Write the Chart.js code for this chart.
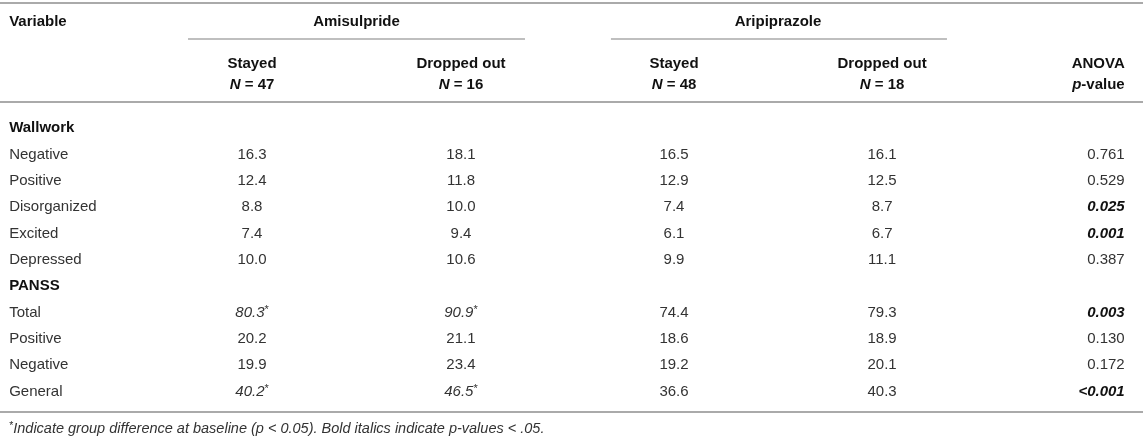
<!DOCTYPE html>
<html>
<head>
<meta charset="utf-8">
<script src="https://cdn.jsdelivr.net/npm/chart.js@4"></script>
<style>
  html, body { margin: 0; padding: 0; background: #fff; }
  #wrap { width: 1143px; height: 438px; position: relative; }
</style>
</head>
<body>
<div id="wrap"><canvas id="tabla"></canvas></div>
<script>
// Datos de la tabla
const groups = ['Amisulpride', 'Aripiprazole'];
const subgroups = ['Stayed', 'Dropped out', 'Stayed', 'Dropped out'];
const groupN = [47, 16, 48, 18];
const sections = ['Wallwork', 'PANSS'];
const wallworkVars = ['Negative', 'Positive', 'Disorganized', 'Excited', 'Depressed'];
const panssVars = ['Total', 'Positive', 'Negative', 'General'];
const amiStayed = [16.3, 12.4, 8.8, 7.4, 10.0, 80.3, 20.2, 19.9, 40.2];
const amiDropped = [18.1, 11.8, 10.0, 9.4, 10.6, 90.9, 21.1, 23.4, 46.5];
const ariStayed = [16.5, 12.9, 7.4, 6.1, 9.9, 74.4, 18.6, 19.2, 36.6];
const ariDropped = [16.1, 12.5, 8.7, 6.7, 11.1, 79.3, 18.9, 20.1, 40.3];
const pValues = ['0.761', '0.529', '0.025', '0.001', '0.387', '0.003', '0.130', '0.172', '<0.001'];
// filas con diferencia en la linea base (solo amisulprida)
const baselineDiff = [false, false, false, false, false, true, false, false, true];
const footnote = 'Indicate group difference at baseline (p < 0.05). Bold italics indicate p-values < .05.';

// Maquetacion (x en % del ancho, y en unidades de fila)
const FONT = '"Liberation Sans", Arial, Helvetica, sans-serif';
const colX = [0.8, 22.05, 40.33, 58.97, 77.17, 98.4];
const groupX = [(colX[1] + colX[2]) / 2, (colX[3] + colX[4]) / 2];
const groupLine = [[16.45, 45.93], [53.45, 82.85]];
const headY = -4.04, subLineY = -3.33, subY1 = -2.45, subY2 = -1.65;
const topRule = -4.7, midRule = -0.94, bottomRule = 10.82, footY = 11.42;

const fonts = {
  r: '15px ' + FONT,
  b: 'bold 15px ' + FONT,
  i: 'italic 15px ' + FONT,
  bi: 'italic bold 15px ' + FONT,
  sup: '11px ' + FONT,
  fi: 'italic 14.5px ' + FONT,
  fsup: '10.5px ' + FONT
};
const BODY = '#333', HEAD = '#111', RULE = '#aaa';

// filas: Wallwork = 0, variables 1..5, PANSS = 6, variables 7..10
const varNames = wallworkVars.concat(panssVars);
const rowIdx = wallworkVars.map((_, i) => i + 1)
  .concat(panssVars.map((_, i) => i + 2 + wallworkVars.length));

function valueCells(values, starred) {
  return values.map((v, i) => (starred && baselineDiff[i])
    ? [{ t: v.toFixed(1), f: 'i' }, { t: '*', f: 'sup', dy: -3 }]
    : [{ t: v.toFixed(1), f: 'r' }]);
}

function isSignificant(p) {
  return p.startsWith('<') || parseFloat(p) < 0.05;
}

function column(x, rows, cells, align) {
  return {
    data: rows.map(r => ({ x: x, y: r })),
    cells: cells,
    align: align,
    pointRadius: 0,
    showLine: false
  };
}

const datasets = [
  column(colX[0], [0, wallworkVars.length + 1], sections.map(s => [{ t: s, f: 'b', c: HEAD }]), 'left'),
  column(colX[0], rowIdx, varNames.map(n => [{ t: n, f: 'r' }]), 'left'),
  column(colX[1], rowIdx, valueCells(amiStayed, true), 'center'),
  column(colX[2], rowIdx, valueCells(amiDropped, true), 'center'),
  column(colX[3], rowIdx, valueCells(ariStayed, false), 'center'),
  column(colX[4], rowIdx, valueCells(ariDropped, false), 'center'),
  column(colX[5], rowIdx, pValues.map(p => [{ t: p, f: isSignificant(p) ? 'bi' : 'r', c: isSignificant(p) ? HEAD : BODY }]), 'right')
];

// dibuja una celda hecha de varios trozos de texto
function drawRuns(ctx, runs, x, y, align) {
  let w = 0;
  runs.forEach(r => { ctx.font = fonts[r.f]; r.w = ctx.measureText(r.t).width; w += r.w; });
  let cx = align === 'left' ? x : align === 'right' ? x - w : x - w / 2;
  ctx.textAlign = 'left';
  ctx.textBaseline = 'middle';
  runs.forEach(r => {
    ctx.font = fonts[r.f];
    ctx.fillStyle = r.c || BODY;
    ctx.fillText(r.t, cx, y + 1.5 + (r.dy || 0));
    cx += r.w;
  });
}

const tableText = {
  id: 'tableText',
  afterDatasetsDraw(chart) {
    const { ctx, scales: { x, y } } = chart;
    ctx.save();

    // lineas horizontales
    ctx.strokeStyle = RULE;
    ctx.lineWidth = 2;
    [topRule, midRule, bottomRule].forEach(r => {
      const py = Math.round(y.getPixelForValue(r));
      ctx.beginPath(); ctx.moveTo(x.left, py); ctx.lineTo(x.right, py); ctx.stroke();
    });
    ctx.lineWidth = 1.5;
    groupLine.forEach(([a, b]) => {
      const py = Math.round(y.getPixelForValue(subLineY));
      ctx.beginPath(); ctx.moveTo(x.getPixelForValue(a), py); ctx.lineTo(x.getPixelForValue(b), py); ctx.stroke();
    });

    // encabezados
    drawRuns(ctx, [{ t: 'Variable', f: 'b', c: HEAD }], x.getPixelForValue(colX[0]), y.getPixelForValue(headY), 'left');
    groups.forEach((g, i) => drawRuns(ctx, [{ t: g, f: 'b', c: HEAD }], x.getPixelForValue(groupX[i]), y.getPixelForValue(headY), 'center'));
    subgroups.forEach((s, i) => {
      const px = x.getPixelForValue(colX[i + 1]);
      drawRuns(ctx, [{ t: s, f: 'b', c: HEAD }], px, y.getPixelForValue(subY1), 'center');
      drawRuns(ctx, [{ t: 'N', f: 'bi', c: HEAD }, { t: ' = ' + groupN[i], f: 'b', c: HEAD }], px, y.getPixelForValue(subY2), 'center');
    });
    const pxA = x.getPixelForValue(colX[5]);
    drawRuns(ctx, [{ t: 'ANOVA', f: 'b', c: HEAD }], pxA, y.getPixelForValue(subY1), 'right');
    drawRuns(ctx, [{ t: 'p', f: 'bi', c: HEAD }, { t: '-value', f: 'b', c: HEAD }], pxA, y.getPixelForValue(subY2), 'right');

    // celdas de datos
    chart.data.datasets.forEach((ds, i) => {
      chart.getDatasetMeta(i).data.forEach((pt, j) => drawRuns(ctx, ds.cells[j], pt.x, pt.y, ds.align));
    });

    // nota al pie
    drawRuns(ctx, [{ t: '*', f: 'fsup', dy: -3 }, { t: footnote, f: 'fi' }],
      x.getPixelForValue(colX[0]), y.getPixelForValue(footY), 'left');
    ctx.restore();
  }
};

new Chart(document.getElementById('tabla'), {
  type: 'scatter',
  data: { datasets: datasets },
  options: {
    responsive: true,
    maintainAspectRatio: false,
    animation: false,
    events: [],
    layout: { padding: 0 },
    plugins: { legend: { display: false }, tooltip: { enabled: false } },
    scales: {
      x: { type: 'linear', min: 0, max: 100, display: false },
      y: { type: 'linear', min: -4.81, max: 11.82, reverse: true, display: false }
    }
  },
  plugins: [tableText]
});
</script>
</body>
</html>
